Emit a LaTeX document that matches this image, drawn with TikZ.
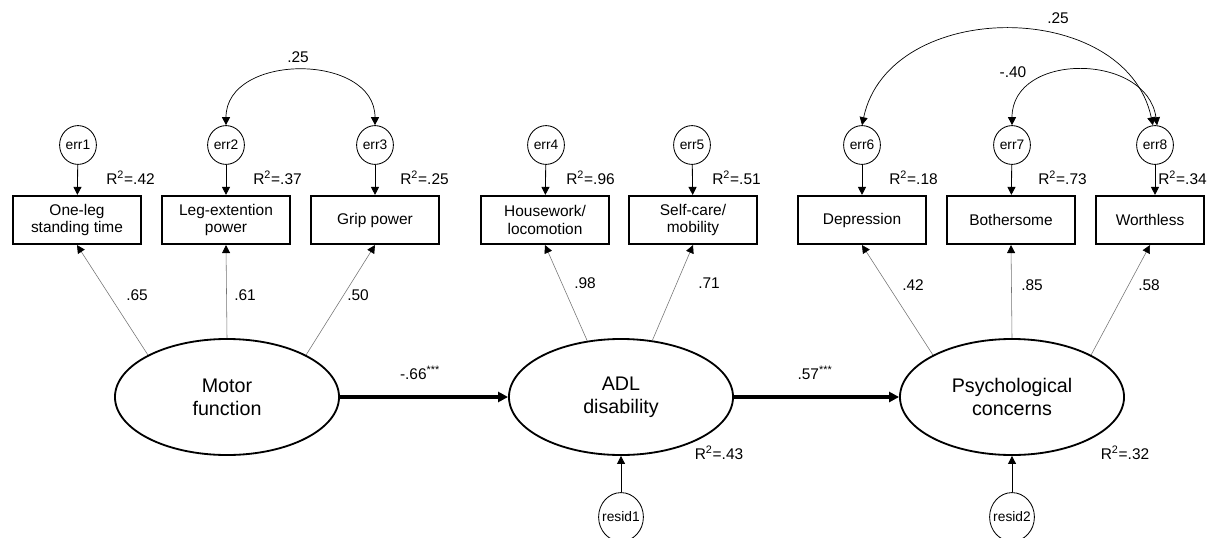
\documentclass[tikz,border=0pt]{standalone}
\usepackage{fontspec}
\setmainfont{Liberation Sans}
\usetikzlibrary{shapes.geometric,arrows.meta}

\begin{document}
\begin{tikzpicture}[x=0.025cm, y=0.025cm,
                every node/.style={font=\fontsize{11}{12.2}\selectfont, inner sep=0pt},
                latent/.style={ellipse, draw, line width=1.3pt, minimum width=5.6cm, minimum height=2.9cm,
                               align=center, font=\fontsize{14}{16.4}\selectfont},
                obs/.style={rectangle, draw, line width=1.5pt, minimum width=3.2cm, minimum height=1.2cm, align=center},
                err/.style={ellipse, draw, line width=0.6pt, minimum width=0.92cm, minimum height=0.97cm,
                            font=\fontsize{9.8}{11}\selectfont},
                resid/.style={err, inner sep=-3pt, minimum width=1.12cm, minimum height=1.22cm},
                load/.style={draw=black!55, line width=0.4pt, -{Triangle[length=5.7pt,width=5.7pt,color=black]}},
                errpath/.style={draw, line width=0.6pt, -{Triangle[length=5.7pt,width=5.7pt]}},
                cov/.style={draw, line width=0.5pt, {Triangle[length=5.7pt,width=5.7pt]}-{Triangle[length=5.7pt,width=5.7pt]}},
                regr/.style={draw, line width=2.8pt, -{Triangle[length=7pt,width=7pt]}}]

                \useasboundingbox (0,0) rectangle (1208,-538);

                % error terms
                \node[err] (e1) at (78,-145) {err1};
                \node[err] (e2) at (226,-145) {err2};
                \node[err] (e3) at (375,-145) {err3};
                \node[err] (e4) at (546,-145) {err4};
                \node[err] (e5) at (692,-145) {err5};
                \node[err] (e6) at (862,-145) {err6};
                \node[err] (e7) at (1012,-145) {err7};
                \node[err] (e8) at (1155,-145) {err8};

                % observed variables
                \node[obs] (b1) at (77,-220) {One-leg\\standing time};
                \node[obs] (b2) at (226,-220) {Leg-extention\\power};
                \node[obs] (b3) at (375,-220) {Grip power};
                \node[obs] (b4) at (545,-220) {Housework/\\locomotion};
                \node[obs] (b5) at (693,-220) {Self-care/\\mobility};
                \node[obs] (b6) at (862,-220) {Depression};
                \node[obs] (b7) at (1011,-220) {Bothersome};
                \node[obs, minimum width=2.68cm] (b8) at (1150,-220) {Worthless};

                % latent variables
                \node[latent] (motor) at (227,-397) {Motor\\function};
                \node[latent] (adl) at (621,-397) {ADL\\disability};
                \node[latent] (psych) at (1012,-397) {Psychological\\concerns};
                \node[resid] (r1) at (621,-517) {resid1};
                \node[resid] (r2) at (1012,-517) {resid2};

                % R squared
                \node[anchor=west] (rsq1) at (106,-178) {R\textsuperscript{2}=.42};
                \node[anchor=west] (rsq2) at (253,-178) {R\textsuperscript{2}=.37};
                \node[anchor=west] (rsq3) at (400,-178) {R\textsuperscript{2}=.25};
                \node[anchor=west] (rsq4) at (566,-178) {R\textsuperscript{2}=.96};
                \node[anchor=west] (rsq5) at (712,-178) {R\textsuperscript{2}=.51};
                \node[anchor=west] (rsq6) at (889,-178) {R\textsuperscript{2}=.18};
                \node[anchor=west] (rsq7) at (1038,-178) {R\textsuperscript{2}=.73};
                \node[anchor=east] (rsq8) at (1207,-178) {R\textsuperscript{2}=.34};
                \node (rsqadl) at (719,-453) {R\textsuperscript{2}=.43};
                \node (rsqpsych) at (1125,-453) {R\textsuperscript{2}=.32};

                % coefficients
                \node (c1) at (137,-295) {.65};
                \node (c2) at (245,-295) {.61};
                \node (c3) at (358,-295) {.50};
                \node (c4) at (585,-283) {.98};
                \node (c5) at (709,-283) {.71};
                \node (c6) at (913,-285) {.42};
                \node (c7) at (1032,-285) {.85};
                \node (c8) at (1149,-285) {.58};
                \node (cma) at (420,-373) {-.66\textsuperscript{***}};
                \node (cap) at (815,-373) {.57\textsuperscript{***}};
                \node (k23) at (298,-57) {.25};
                \node (k68) at (1058,-18) {.25};
                \node (k78) at (1013,-72) {-.40};

                \path (e1) edge[errpath] (b1);
                \path (e2) edge[errpath] (b2);
                \path (e3) edge[errpath] (b3);
                \path (e4) edge[errpath] (b4);
                \path (e5) edge[errpath] (b5);
                \path (e6) edge[errpath] (b6);
                \path (e7) edge[errpath] (b7);
                \path (e8) edge[errpath] (b8.north -| e8);

                \path (motor.152) edge[load] (b1.south);
                \path (motor.90) edge[load] (b2.south);
                \path (motor.28) edge[load] (b3.south);
                \path (adl.121) edge[load] (b4.south);
                \path (adl.61) edge[load] (b5.south);
                \path (psych.152) edge[load] (b6.south);
                \path (psych.90) edge[load] (b7.south);
                \path (psych.28) edge[load] (b8.south);

                \path (motor) edge[regr] (adl);
                \path (adl) edge[regr] (psych);
                \path (r1) edge[errpath] (adl);
                \path (r2) edge[errpath] (psych);

                \path (e2.north) edge[cov, out=90, in=90, looseness=1.25] (e3.north);
                \path (e6.north) edge[cov, out=78, in=102, looseness=1.15] (e8.96);
                \path (e7.north) edge[cov, out=90, in=98, looseness=1.3] (e8.84);
            \end{tikzpicture}
\end{document}
